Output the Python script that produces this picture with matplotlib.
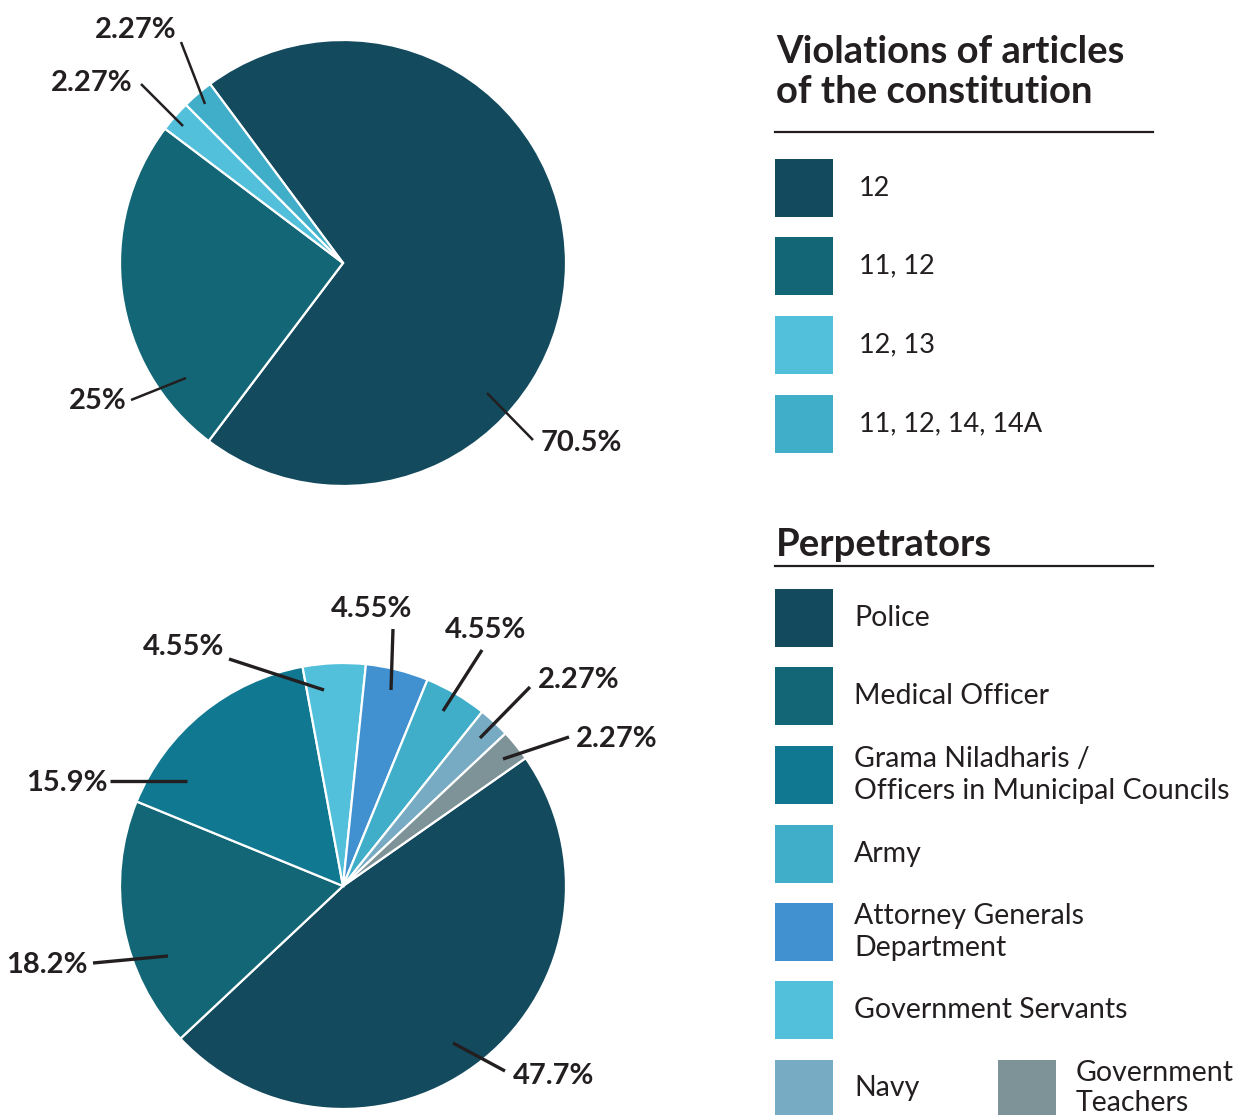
import matplotlib
matplotlib.use("Agg")
import matplotlib.pyplot as plt
from matplotlib.patches import Rectangle

plt.rcParams['font.family'] = ['Lato', 'DejaVu Sans']

# ---------------- data ----------------
art_labels = ["12", "11, 12", "12, 13", "11, 12, 14, 14A"]
art_counts = [31, 11, 1, 1]
art_pct = ["70.5%", "25%", "2.27%", "2.27%"]
art_colors = ["#134a5d", "#126675", "#52c0da", "#40aec9"]

perp_labels = ["Police", "Medical Officer", "Grama Niladharis /\nOfficers in Municipal Councils",
               "Government Servants", "Attorney Generals\nDepartment", "Army", "Navy",
               "Government\nTeachers"]
perp_counts = [21, 8, 7, 2, 2, 2, 1, 1]
perp_pct = ["47.7%", "18.2%", "15.9%", "4.55%", "4.55%", "4.55%", "2.27%", "2.27%"]
perp_colors = ["#134a5d", "#126675", "#117892", "#52c0da", "#4190d0", "#40aec9", "#76abc3", "#7e9398"]

# legend order for perpetrators
perp_legend_order = [0, 1, 2, 5, 4, 3]

TXT = "#231f20"
H = 1115
def Y(y):
    return H - y

fig = plt.figure(figsize=(12.4, 11.15), dpi=100)
ax = fig.add_axes([0, 0, 1, 1])

R = 223
ax.pie(art_counts, colors=art_colors, startangle=126.6, counterclock=False,
       center=(343, Y(263)), radius=R,
       wedgeprops=dict(edgecolor="white", linewidth=1.6))
ax.pie(perp_counts, colors=perp_colors, startangle=35.0, counterclock=False,
       center=(343, Y(886)), radius=R,
       wedgeprops=dict(edgecolor="white", linewidth=1.6))

ax.set_xlim(0, 1240)
ax.set_ylim(0, H)
ax.set_aspect('auto')
ax.axis('off')

PFS = 21
# ---------- leader labels (layout positions in pixels) ----------
# (inner point, outer point, text pos, ha)
top_ann = [
    ((487, 393), (533, 440), (541, 443), "left"),
    ((186, 378), (131, 400), (127, 401), "right"),
    ((183, 126), (141, 84), (133, 83), "right"),
    ((205, 104), (181, 42), (176, 30), "right"),
]
for (p_in, p_out, p_txt, ha), pct in zip(top_ann, art_pct):
    ax.plot([p_in[0], p_out[0]], [Y(p_in[1]), Y(p_out[1])], color=TXT, lw=1.8,
            solid_capstyle='butt')
    ax.text(p_txt[0], Y(p_txt[1]), pct, ha=ha, va="center", fontsize=PFS,
            fontweight="bold", color=TXT)

bot_ann = [
    ((453, 1043), (505, 1071), (513, 1076), "left"),
    ((168, 956), (93, 963), (88, 965), "right"),
    ((187, 781), (110, 781), (108, 783), "right"),
    ((324, 690), (229, 659), (184, 647), "center"),
    ((391, 690), (393, 629), (372, 609), "center"),
    ((443, 711), (482, 650), (486, 630), "center"),
    ((480, 738), (530, 687), (538, 680), "left"),
    ((503, 759), (569, 737), (576, 739), "left"),
]
for (p_in, p_out, p_txt, ha), pct in zip(bot_ann, perp_pct):
    ax.plot([p_in[0], p_out[0]], [Y(p_in[1]), Y(p_out[1])], color=TXT, lw=2.4,
            solid_capstyle='butt')
    ax.text(p_txt[0], Y(p_txt[1]), pct, ha=ha, va="center", fontsize=PFS,
            fontweight="bold", color=TXT)

# ---------------- legends ----------------
ax.text(776, Y(72), "Violations of articles\nof the constitution", ha="left", va="center",
        fontsize=27.5, fontweight="bold", color=TXT, linespacing=1.2)
ax.plot([775, 1153], [Y(132), Y(132)], color=TXT, lw=1.6)

sq = 58
top_rows = [188, 266, 345, 424]
for lab, col, yc in zip(art_labels, art_colors, top_rows):
    ax.add_patch(Rectangle((775, Y(yc) - sq / 2), sq, sq, color=col, lw=0))
    ax.text(859, Y(yc), lab, ha="left", va="center", fontsize=19.5, color=TXT)

ax.text(776, Y(545), "Perpetrators", ha="left", va="center",
        fontsize=27.5, fontweight="bold", color=TXT)
ax.plot([775, 1153], [Y(566), Y(566)], color=TXT, lw=1.6)

LFS = 20.5
bot_rows = [618, 696, 775, 854, 932, 1010]
for idx, yc in zip(perp_legend_order, bot_rows):
    ax.add_patch(Rectangle((775, Y(yc) - sq / 2), sq, sq, color=perp_colors[idx], lw=0))
    ax.text(854, Y(yc), perp_labels[idx], ha="left", va="center", fontsize=LFS,
            color=TXT, linespacing=1.25)

# Navy and Government Teachers (last row, partly cut)
ax.add_patch(Rectangle((775, Y(1060) - sq), sq, sq, color=perp_colors[6], lw=0))
ax.text(854, Y(1088), perp_labels[6], ha="left", va="center", fontsize=LFS, color=TXT)
ax.add_patch(Rectangle((998, Y(1060) - sq), sq, sq, color=perp_colors[7], lw=0))
ax.text(1076, Y(1088), perp_labels[7], ha="left", va="center", fontsize=LFS, color=TXT,
        linespacing=1.2)

fig.savefig("out.png", dpi=100, facecolor="white")
